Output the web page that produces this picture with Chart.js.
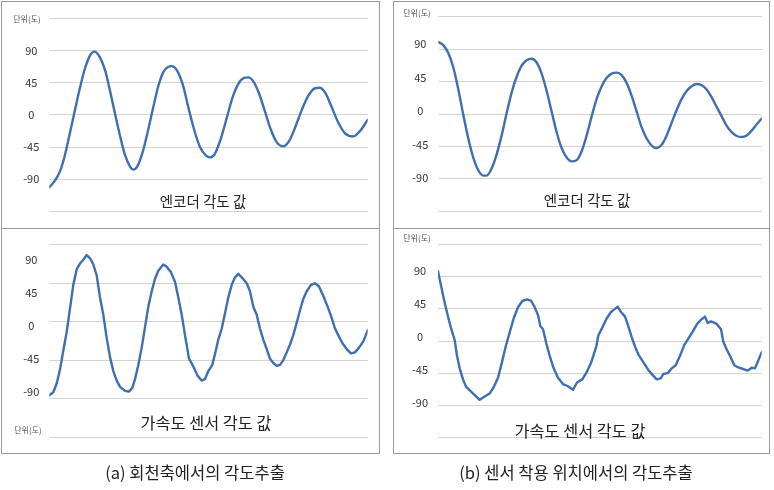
<!DOCTYPE html>
<html><head><meta charset="utf-8">
<script src="https://cdn.jsdelivr.net/npm/chart.js@4.4.0/dist/chart.umd.min.js"></script>
<style>
html,body{margin:0;padding:0;background:#fff;}
#stage{position:relative;width:774px;height:490px;overflow:hidden;font-family:"Noto Sans CJK KR","Noto Sans",sans-serif;}
canvas{position:absolute;}
.box{position:absolute;border:1px solid #9a9a9a;box-sizing:border-box;pointer-events:none;}
.txt{position:absolute;transform:translate(-50%,-50%);white-space:nowrap;line-height:1;color:#222;}
.unit{font-size:8px;color:#555;}
</style></head><body>
<div id="stage">
  <canvas id="tl" width="380" height="228" style="left:0;top:0"></canvas>
  <canvas id="tr" width="384" height="228" style="left:390px;top:0"></canvas>
  <canvas id="bl" width="380" height="226" style="left:0;top:228px"></canvas>
  <canvas id="br" width="384" height="226" style="left:390px;top:228px"></canvas>
  <div class="box" style="left:1px;top:1px;width:379px;height:228px"></div>
  <div class="box" style="left:1px;top:228px;width:379px;height:226px"></div>
  <div class="box" style="left:393px;top:1px;width:377px;height:228px"></div>
  <div class="box" style="left:393px;top:228px;width:377px;height:226px"></div>
  <div class="txt unit" style="left:27px;top:19px">단위(도)</div>
  <div class="txt unit" style="left:417px;top:13px">단위(도)</div>
  <div class="txt unit" style="left:28px;top:430px">단위(도)</div>
  <div class="txt unit" style="left:417px;top:238px">단위(도)</div>
  <div class="txt" style="left:203px;top:201px;font-size:14.5px">엔코더 각도 값</div>
  <div class="txt" style="left:587px;top:200px;font-size:14.5px">엔코더 각도 값</div>
  <div class="txt" style="left:206px;top:422px;font-size:16.3px">가속도 센서 각도 값</div>
  <div class="txt" style="left:580px;top:430px;font-size:16.3px">가속도 센서 각도 값</div>
  <div class="txt" style="left:195px;top:472px;font-size:16.5px">(a) 회천축에서의 각도추출</div>
  <div class="txt" style="left:576px;top:472px;font-size:16.5px">(b) 센서 착용 위치에서의 각도추출</div>
</div>
<script>
// ---- data (time in s, angle in degrees) ----
const yTickValues = [-90, -45, 0, 45, 90];

const tlTime = [0,0.178,0.335,0.492,0.649,0.806,0.963,1.12,1.277,1.414,1.571,1.749,1.906,2.063,2.22,2.377,2.534,2.639,2.764,2.932,3.11,3.267,3.424,3.581,3.738,3.843,4.0,4.188,4.366,4.545,4.733,4.921,5.047,5.204,5.382,5.571,5.759,5.937,6.115,6.251,6.408,6.597,6.775,6.953,7.141,7.351,7.539,7.717,7.927,8.136,8.346,8.482,8.66,8.869,9.079,9.288,9.55,9.759,10.0];
const tlAngle = [-101.3,-92,-79,-56,-25,6.8,38,65,83,88.6,82,63,34,2,-29,-56,-72,-76.5,-72,-52,-20,11,40.5,60,67.5,68.4,63,43,11,-20,-45,-57,-59.4,-54,-34,-4.5,25,43.6,51.8,52.6,47,29,4.5,-20,-38,-44,-36,-18,6.8,27,37.4,38,31.5,11,-11,-25.7,-30,-22.5,-6.8];

const trTime = [0,0.155,0.309,0.464,0.619,0.773,0.928,1.082,1.237,1.392,1.495,1.649,1.804,1.959,2.113,2.268,2.423,2.577,2.732,2.887,3.041,3.196,3.351,3.505,3.66,3.814,3.969,4.124,4.278,4.433,4.588,4.742,4.897,5.052,5.206,5.361,5.515,5.67,5.825,5.979,6.134,6.289,6.443,6.598,6.753,6.907,7.062,7.216,7.371,7.526,7.68,7.835,7.99,8.144,8.299,8.454,8.608,8.763,8.918,9.072,9.227,9.381,9.536,9.691,9.845,10.0];
const trAngle = [92.8,88.5,77.9,58.7,28.9,-5.1,-37,-62.6,-79.6,-86.8,-86.8,-77.4,-58.3,-32.8,-3,24.7,46,60.9,68.1,70.2,65.1,50.2,26.8,-0.9,-28.5,-49.8,-62.6,-67.7,-66,-54,-32.8,-7.2,16.2,33.2,44.7,50.2,51.5,48.1,37.4,20.4,-0.9,-22.1,-37,-46.4,-49.8,-45.5,-32.8,-15.7,1.3,16.2,26.8,33.2,36.2,34.5,28.9,18.3,5.5,-7.2,-20,-28.5,-33.6,-34.9,-32.8,-26.4,-17.9,-10.2];

const blTime = [0,0.126,0.232,0.336,0.44,0.546,0.651,0.754,0.861,0.964,1.068,1.175,1.278,1.382,1.489,1.592,1.696,1.803,1.907,2.01,2.117,2.221,2.378,2.504,2.607,2.692,2.795,2.902,3.006,3.109,3.216,3.32,3.423,3.58,3.687,3.822,3.948,4.052,4.158,4.262,4.388,4.523,4.661,4.786,4.89,4.994,5.119,5.204,5.308,5.415,5.518,5.622,5.729,5.832,5.936,6.043,6.2,6.303,6.407,6.514,6.617,6.721,6.828,6.932,7.035,7.142,7.246,7.349,7.456,7.56,7.663,7.77,7.874,7.977,8.084,8.219,8.345,8.47,8.606,8.744,8.869,8.973,9.098,9.202,9.34,9.475,9.601,9.727,9.862,10.0];
const blAngle = [-95,-91,-79,-60,-34,-8.6,23.5,55.7,77,84.8,90,96.4,92,83.6,68.5,38.6,15,-17,-43,-62,-75,-83.6,-89,-90,-85,-73,-53.6,-30,-2,25.7,47,64,75,83.6,80.5,72.8,60,38.6,15,-13,-45,-55.8,-68.6,-75,-73,-62,-53.6,-38.6,-19,-4,17,38.6,55.7,66,70.7,66,57.9,47,25.7,15,-4,-19,-32,-45,-51,-55,-53.6,-47,-36.5,-25.7,-13,4,21,36.4,47,55.7,57.9,53.5,40.6,25.7,10.7,-4,-15,-23.6,-32,-37.8,-36.5,-30,-21.5,-6.4];

const brTime = [0,0.102,0.207,0.309,0.411,0.516,0.587,0.67,0.772,0.874,0.998,1.134,1.288,1.443,1.597,1.721,1.854,1.977,2.091,2.215,2.339,2.471,2.604,2.749,2.882,2.987,3.089,3.16,3.244,3.346,3.451,3.574,3.707,3.862,4.016,4.171,4.294,4.458,4.603,4.736,4.89,4.952,5.076,5.212,5.345,5.468,5.552,5.653,5.777,5.879,5.984,6.086,6.188,6.342,6.497,6.62,6.756,6.88,6.96,7.096,7.22,7.343,7.476,7.609,7.732,7.856,7.992,8.125,8.248,8.332,8.434,8.61,8.743,8.814,8.919,9.021,9.154,9.277,9.432,9.567,9.691,9.793,9.895,10];
const brAngle = [90,68.5,47,28,10.7,-4.3,-25.7,-42.8,-57.9,-68.6,-73.7,-79.3,-85.8,-81.4,-77.1,-68.6,-55.7,-34.3,-12.9,6.4,25.7,40.8,49.3,51.4,49.3,40.8,30,15,10.7,-8.6,-25.7,-42.8,-55.7,-64.3,-67.3,-72,-62.1,-57.9,-47.2,-34.3,-12.9,2.1,12.9,25.7,34.3,38.6,41.6,34.3,27.9,15,0,-12.9,-23.6,-34.3,-45,-51.4,-57.9,-56.6,-50.5,-49.3,-42.8,-38.6,-25.7,-10.7,-2.1,6.4,17.1,23.6,27.9,19.3,21.4,18,10.7,-6.4,-17.1,-25.7,-38.6,-41.6,-43.7,-45.9,-42,-42.8,-32.1,-20.6];

// axis ranges (degrees at top / bottom of each plot) and gridline counts
const tlRange = [-135, 135];
const trRange = [-134.9, 126.8];
const blRange = [-152.6, 110.7];
const brRange = [-137.2, 126.4];

// ---- layout (pixels) ----
const AXW = 30;
const layout = {
  tl: {cx: 0,   cy: 0,   cw: 380, ch: 228, left: 49.3,  top: 18.5,  right: 367.7, bottom: 218.3, grids: 7},
  tr: {cx: 390, cy: 0,   cw: 384, ch: 228, left: 438.3, top: 11.7,  right: 761.7, bottom: 216.7, grids: 7},
  bl: {cx: 0,   cy: 228, cw: 380, ch: 226, left: 49.3,  top: 237.2, right: 367.7, bottom: 442,   grids: 6},
  br: {cx: 390, cy: 228, cw: 384, ch: 226, left: 438,   top: 236.7, right: 761.7, bottom: 441.7, grids: 7}
};
const LINE = '#3f6fae';
const GRID = '#d3d3d3';

function build(id, times, angles, range, smooth) {
  const L = layout[id];
  const pts = times.map((t, i) => ({x: t, y: angles[i]}));
  const gridVals = Array.from({length: L.grids}, (_, i) => i);
  new Chart(document.getElementById(id), {
    type: 'line',
    data: {datasets: [{
      data: pts, borderColor: LINE, borderWidth: 2.4, pointRadius: 0, fill: false,
      tension: smooth ? 0.4 : 0, cubicInterpolationMode: smooth ? 'monotone' : 'default',
      borderJoinStyle: 'round', borderCapStyle: 'round',
      xAxisID: 'x', yAxisID: 'y'
    }]},
    options: {
      responsive: false, animation: false, devicePixelRatio: 1,
      layout: {padding: {
        left: L.left - L.cx - AXW, top: L.top - L.cy,
        right: L.cx + L.cw - L.right, bottom: L.cy + L.ch - L.bottom
      }},
      plugins: {legend: {display: false}, tooltip: {enabled: false}, title: {display: false}},
      scales: {
        x: {type: 'linear', min: 0, max: 10, display: false},
        y: {
          type: 'linear', position: 'left', min: range[0], max: range[1],
          afterBuildTicks: a => { a.ticks = yTickValues.map(v => ({value: v})); },
          afterFit: a => { a.width = AXW; },
          grid: {display: false, drawTicks: false}, border: {display: false},
          ticks: {crossAlign: 'center', padding: 10, color: '#333',
                  font: {family: '"Noto Sans CJK KR", "Noto Sans", sans-serif', size: 11}}
        },
        yg: {
          type: 'linear', position: 'right', min: 0, max: L.grids - 1,
          afterBuildTicks: a => { a.ticks = gridVals.map(v => ({value: v})); },
          afterFit: a => { a.width = 0; },
          ticks: {display: false},
          grid: {color: GRID, lineWidth: 1, drawTicks: false}, border: {display: false}
        }
      }
    }
  });
}

build('tl', tlTime, tlAngle, tlRange, true);
build('tr', trTime, trAngle, trRange, true);
build('bl', blTime, blAngle, blRange, false);
build('br', brTime, brAngle, brRange, false);
</script>
</body></html>
